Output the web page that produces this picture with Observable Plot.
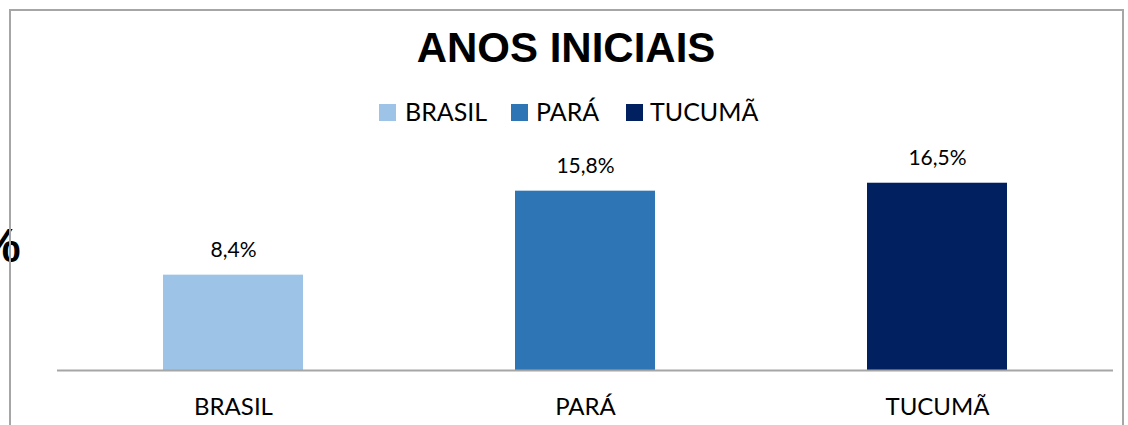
<!DOCTYPE html>
<html>
<head>
<meta charset="utf-8">
<script src="https://cdn.jsdelivr.net/npm/d3@7"></script>
<script src="https://cdn.jsdelivr.net/npm/@observablehq/plot@0.6"></script>
<style>
  html, body { margin: 0; padding: 0; background: #fff; }
  #wrap { position: relative; width: 1128px; height: 425px; overflow: hidden; background: #fff; }
  .frame-top { position: absolute; left: 9px; top: 9px; width: 1115px; height: 2px; background: #a6a6a6; }
  .frame-left { position: absolute; left: 9px; top: 9px; width: 2px; height: 430px; background: #a6a6a6; }
  .frame-right { position: absolute; left: 1122px; top: 9px; width: 2px; height: 430px; background: #a6a6a6; }
  #title { position: absolute; left: 0; width: 1132px; top: 27px; text-align: center;
    font-family: "Liberation Sans", Arial, sans-serif; font-weight: bold; font-size: 42px; line-height: 42px; color: #000; }
  #legend { position: absolute; left: 0; top: 0; width: 1128px; height: 140px;
    font-family: Lato, "Open Sans", sans-serif; font-size: 25px; color: #000; }
  .li { position: absolute; top: 99px; height: 25px; line-height: 25px; white-space: nowrap; }
  .sw { position: absolute; width: 17px; height: 17px; top: 104px; }
  #pct { position: absolute; left: -22px; top: 222px; font-family: "Liberation Sans", Arial, sans-serif;
    font-weight: bold; font-size: 48px; line-height: 48px; color: #000; }
  #chart { position: absolute; left: 0; top: 140px; }
</style>
</head>
<body>
<div id="wrap">
  <div id="pct">%</div>
  <div class="frame-top"></div>
  <div class="frame-left"></div>
  <div class="frame-right"></div>
  <div id="title"></div>
  <div id="legend"></div>
  <div id="chart"></div>
</div>
<script>
const categories = ["BRASIL", "PARÁ", "TUCUMÃ"];
const values = [8.4, 15.8, 16.5];
const labels = ["8,4%", "15,8%", "16,5%"];
const colors = ["#9dc3e6", "#2e75b6", "#002060"];
const titleText = "ANOS INICIAIS";

document.getElementById("title").textContent = titleText;

// legend
const legend = document.getElementById("legend");
const swX = [379, 511, 626];
const txX = [405, 536, 650];
categories.forEach((c, i) => {
  const s = document.createElement("div");
  s.className = "sw"; s.style.left = swX[i] + "px"; s.style.background = colors[i];
  legend.appendChild(s);
  const t = document.createElement("div");
  t.className = "li"; t.style.left = txX[i] + "px"; t.textContent = c;
  legend.appendChild(t);
});

const data = categories.map((c, i) => ({cat: c, value: values[i], label: labels[i]}));

const chart = Plot.plot({
  width: 1128,
  height: 285,
  marginLeft: 57,
  marginRight: 15,
  marginTop: 3,
  marginBottom: 55,
  style: {fontFamily: "Lato, 'Open Sans', sans-serif", background: "transparent", overflow: "visible"},
  x: {domain: categories, paddingInner: 0.602, paddingOuter: 0.301, label: null},
  y: {domain: [0, 20], axis: null},
  color: {domain: categories, range: colors},
  marks: [
    Plot.barY(data, {x: "cat", y: "value", fill: "cat"}),
    Plot.ruleY([0], {stroke: "#a6a6a6", strokeWidth: 2}),
    Plot.text(data, {x: "cat", y: "value", text: "label", lineAnchor: "bottom", dy: -18, fontSize: 21, fill: "#000"}),
    Plot.axisX({tickSize: 0, tickPadding: 27, fontSize: 24, fill: "#000", label: null})
  ]
});
document.getElementById("chart").appendChild(chart);
</script>
</body>
</html>
